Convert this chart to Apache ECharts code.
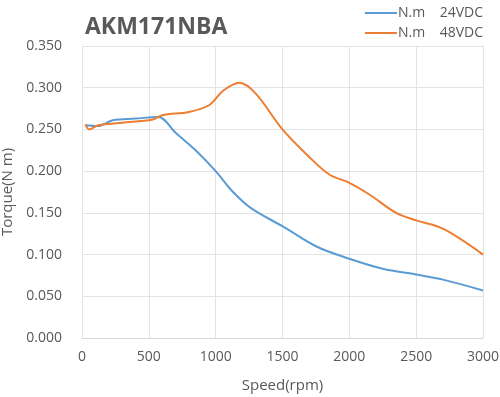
<!DOCTYPE html>
<html>
<head>
<meta charset="utf-8">
<script src="https://cdn.jsdelivr.net/npm/echarts@6/dist/echarts.min.js"></script>
<style>
  html, body { margin: 0; padding: 0; background: #fff; }
  #chart { width: 500px; height: 397px; }
</style>
</head>
<body>
<div id="chart"></div>
<script>
// speed (rpm) and torque (N m)
const speed24 = [25, 120, 230, 400, 570, 700, 850, 1000, 1130, 1270, 1500, 1750, 2000, 2250, 2500, 2700, 3000];
const torque24 = [0.255, 0.254, 0.261, 0.263, 0.265, 0.246, 0.225, 0.200, 0.175, 0.155, 0.134, 0.110, 0.095, 0.083, 0.076, 0.070, 0.057];

const speed48 = [25, 55, 120, 300, 530, 600, 800, 950, 1060, 1180, 1300, 1500, 1700, 1850, 2000, 2150, 2350, 2500, 2700, 3000];
const torque48 = [0.256, 0.250, 0.255, 0.258, 0.262, 0.267, 0.271, 0.279, 0.297, 0.306, 0.293, 0.250, 0.217, 0.196, 0.186, 0.172, 0.150, 0.141, 0.131, 0.100];

const seriesNames = ['N.m    24VDC', 'N.m    48VDC'];
const colors = ['#5b9bd5', '#ed7d31'];

function pairs(xs, ys) {
  return xs.map((x, i) => [x, ys[i]]);
}

const chart = echarts.init(document.getElementById('chart'));
const textColor = '#595959';
const font = '"Open Sans", "Noto Sans", sans-serif';

chart.setOption({
  animation: false,
  textStyle: { fontFamily: font },
  title: {
    text: 'AKM171NBA',
    left: 80,
    top: 11,
    textStyle: { fontSize: 23, fontWeight: 'bold', color: textColor, fontFamily: font }
  },
  legend: {
    orient: 'vertical',
    right: 12,
    top: 1,
    itemWidth: 32,
    itemHeight: 2,
    itemGap: 6,
    icon: 'rect',
    textStyle: { fontSize: 14, color: textColor, padding: [0, 0, 0, -4] },
    data: seriesNames
  },
  grid: { left: 82, right: 17, top: 46, bottom: 59, outerBoundsMode: 'none' },
  xAxis: {
    type: 'value',
    min: 0,
    max: 3000,
    interval: 500,
    name: 'Speed(rpm)',
    nameLocation: 'middle',
    nameGap: 40,
    nameTextStyle: { fontSize: 15, color: textColor },
    axisLine: { lineStyle: { color: '#d9d9d9' } },
    axisTick: { show: false },
    axisLabel: { fontSize: 14, color: textColor, margin: 12, formatter: v => String(v) },
    splitLine: { lineStyle: { color: '#e3e3e3' } }
  },
  yAxis: {
    type: 'value',
    min: 0,
    max: 0.35,
    interval: 0.05,
    name: 'Torque(N m)',
    nameLocation: 'middle',
    nameGap: 63,
    nameTextStyle: { fontSize: 15, color: textColor },
    axisLine: { show: false },
    axisTick: { show: false },
    axisLabel: { fontSize: 14, color: textColor, margin: 20, formatter: v => v.toFixed(3) },
    splitLine: { lineStyle: { color: '#e3e3e3' } }
  },
  series: [
    {
      name: seriesNames[0],
      type: 'line',
      data: pairs(speed24, torque24),
      smooth: 0.35,
      showSymbol: false,
      lineStyle: { color: colors[0], width: 2 },
      itemStyle: { color: colors[0] }
    },
    {
      name: seriesNames[1],
      type: 'line',
      data: pairs(speed48, torque48),
      smooth: 0.35,
      showSymbol: false,
      lineStyle: { color: colors[1], width: 2 },
      itemStyle: { color: colors[1] }
    }
  ]
});
</script>
</body>
</html>
